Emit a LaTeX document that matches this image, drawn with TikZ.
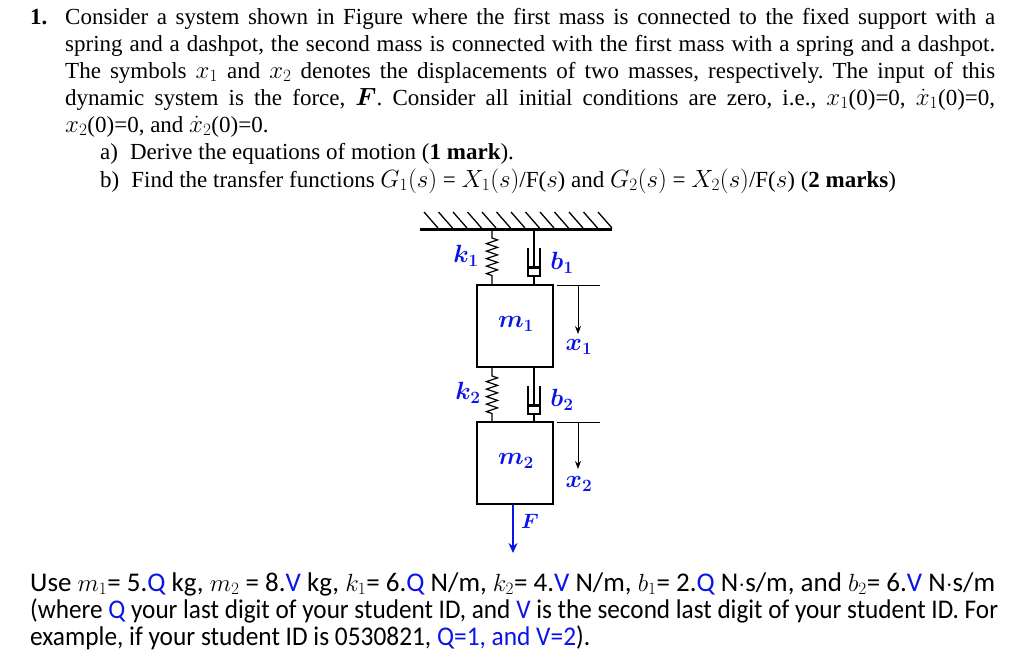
\documentclass[tikz,border=0pt]{standalone}
\usepackage{amsmath,bm}
\usepackage{fontspec}
\setmainfont{Liberation Serif}
\newfontfamily\carlitofont{Carlito}
\usetikzlibrary{decorations.pathmorphing,arrows.meta}
\definecolor{lblue}{RGB}{10,20,230}
\tikzset{
  lbl/.style={text=lblue,font=\fontsize{23}{25}\selectfont},
  txt/.style={anchor=base west,inner sep=0pt,font=\fontsize{23}{24}\selectfont\frenchspacing},
  btxt/.style={anchor=base west,inner sep=0pt,font=\carlitofont\fontsize{27}{28}\selectfont},
  spr/.style={decorate,decoration={zigzag,segment length=7.5pt,amplitude=5.5pt,pre length=9pt,post length=8pt},line width=1.2pt},
  mass/.style={draw,line width=1.1pt,inner sep=0pt},
  arr/.style={-{Stealth[length=8pt,width=6pt]},line width=1pt}
}
\newcommand{\Qv}{\textcolor{lblue}{Q}}
\newcommand{\Vv}{\textcolor{lblue}{V}}
\begin{document}
\begin{tikzpicture}[x=1pt,y=-1pt]
\useasboundingbox (0,0) rectangle (1024,665);
% text
\node[txt] (n1) at (30,24) {\textbf{1.}};
\node[txt] (l1) at (65,24) {\makebox[930pt][s]{Consider a system shown in Figure where the first mass is connected to the fixed support with a}};
\node[txt] (l2) at (65,51) {\makebox[930pt][s]{spring and a dashpot, the second mass is connected with the first mass with a spring and a dashpot.}};
\node[txt] (l3) at (65,78) {\makebox[930pt][s]{The symbols $x_1$ and $x_2$ denotes the displacements of two masses, respectively. The input of this}};
\node[txt] (l4) at (65,105) {\makebox[930pt][s]{dynamic system is the force, $\bm{F}$. Consider all initial conditions are zero, i.e., $x_1$(0)=0, $\dot{x}_1$(0)=0,}};
\node[txt] (l5) at (65,132) {$x_2$(0)=0, and $\dot{x}_2$(0)=0.};
\node[txt] (la) at (100,159) {a)\hspace{12pt}Derive the equations of motion (\textbf{1 mark}).};
\node[txt] (lb) at (100,187) {b)\hspace{12pt}Find the transfer functions $G_1(s)$ = $X_1(s)$/F($s$) and $G_2(s)$ = $X_2(s)$/F($s$) (\textbf{2 marks})};
\node[btxt] (u1) at (30,591) {\resizebox{965pt}{\height}{Use $m_1$= 5.\Qv\ kg, $m_2$ = 8.\Vv\ kg, $k_1$= 6.\Qv\ N/m, $k_2$= 4.\Vv\ N/m, $b_1$= 2.\Qv\ N$\cdot$s/m, and $b_2$= 6.\Vv\ N$\cdot$s/m}};
\node[btxt] (u2) at (30,618) {\resizebox{968pt}{\height}{(where \Qv\ your last digit of your student ID, and \Vv\ is the second last digit of your student ID. For}};
\node[btxt] (u3) at (30,645) {\resizebox{560pt}{\height}{example, if your student ID is 0530821, \textcolor{lblue}{Q=1, and V=2}).}};
% ceiling
\draw[line width=3pt] (420,229) -- (612,229);
\foreach \i in {0,...,12} \draw[line width=1.3pt] (424+\i*14.5,212) -- (424+\i*14.5+14,228);
% masses
\node[mass,minimum width=76pt,minimum height=82pt] (m1) at (515,326) {};
\node[mass,minimum width=76pt,minimum height=82pt] (m2) at (515,463) {};
\node[lbl] at (516,324) {$\bm{m_1}$};
\node[lbl] at (516,461) {$\bm{m_2}$};
% springs
\draw[spr] (492,229) -- (492,285);
\draw[spr] (492,367) -- (492,422);
\node[lbl] at (466,256) {$\bm{k_1}$};
\node[lbl] at (468,393) {$\bm{k_2}$};
% dashpots
\foreach \t/\b in {229/285,367/422}{
  \draw[line width=1.1pt] (534,\t) -- (534,\t+38);
  \draw[line width=1.3pt] (528,\t+19) -- (528,\t+47) -- (540,\t+47) -- (540,\t+19);
  \draw[line width=3pt] (528,\t+38) -- (540,\t+38);
  \draw[line width=1.1pt] (534,\t+47) -- (534,\b);
}
\node[lbl] at (562,263) {$\bm{b_1}$};
\node[lbl] at (562,400) {$\bm{b_2}$};
% displacement arrows
\draw[line width=1pt] (557,285) -- (600,285);
\draw[arr] (578,285) -- (578,334);
\node[lbl] at (579,347) {$\bm{x_1}$};
\draw[line width=1pt] (557,422) -- (600,422);
\draw[arr] (578,422) -- (578,469);
\node[lbl] at (579,484) {$\bm{x_2}$};
% force
\coordinate (fend) at (513,553);
\draw[-{Stealth[length=10pt,width=9pt]},line width=2.2pt,lblue] (m2.south -| fend) -- (fend);
\node[lbl,font=\fontsize{21}{23}\selectfont] at (530,521) {$\bm{F}$};
\end{tikzpicture}
\end{document}
